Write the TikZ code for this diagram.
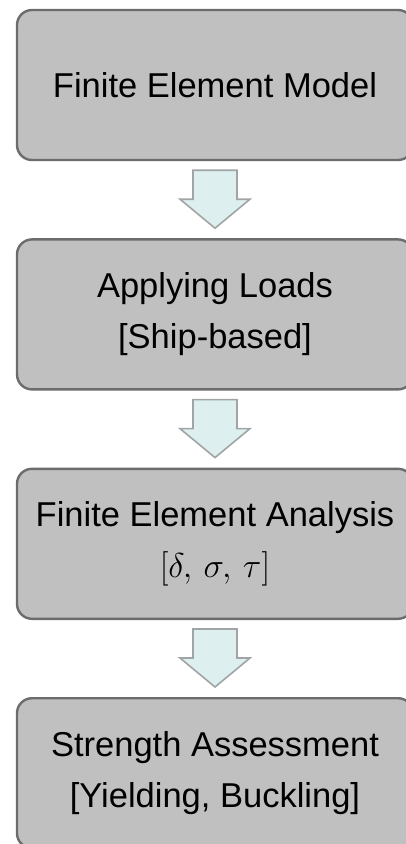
\documentclass[tikz,border=0pt]{standalone}
\usepackage{amsmath}
\usepackage{graphicx}
\usepackage{fontspec}
\setmainfont{Liberation Sans}
\usetikzlibrary{positioning,calc}

\definecolor{boxfill}{RGB}{192,192,192}
\definecolor{boxline}{RGB}{108,108,108}
\definecolor{arrowfill}{RGB}{221,239,239}
\definecolor{arrowline}{RGB}{160,164,164}

% block arrow from the bottom of one box to the top of the next
\newcommand{\flowarrow}[2]{%
  \draw[blockarrow] ($(#1.south)+(-22,-9)$) -- ($(#1.south)+(22,-9)$)
    -- ($(#1.south)+(22,-38)$) -- ($(#1.south)+(35,-38)$)
    -- ($(#2.north)+(0,10)$)
    -- ($(#1.south)+(-35,-38)$) -- ($(#1.south)+(-22,-38)$) -- cycle;}
% cm math stops at 24.88pt, so blow it up to the text size
\newcommand{\bigmath}[1]{\scalebox{1.387}{\fontsize{24.88}{30}\selectfont$#1$}}

\begin{document}
\begin{tikzpicture}[x=1pt,y=1pt,
  box/.style={draw=boxline,fill=boxfill,line width=2.4pt,rounded corners=15pt,
    minimum width=396pt,minimum height=150pt,inner sep=0pt,align=center,
    font=\fontsize{34.5}{51}\selectfont},
  blockarrow/.style={draw=arrowline,fill=arrowfill,line width=1.6pt,line join=miter}]
  \useasboundingbox (0,0) rectangle (406,-844);
  \node[box] (model) at (215,-85) {Finite Element Model};
  \node[box,below=77pt of model] (loads) {Applying Loads\\{}[Ship-based]};
  \node[box,below=77pt of loads] (fea) {Finite Element Analysis\\\bigmath{[\delta,\,\sigma,\,\tau]}};
  \node[box,below=77pt of fea] (strength) {Strength Assessment\\{}[Yielding, Buckling]};
  \flowarrow{model}{loads}
  \flowarrow{loads}{fea}
  \flowarrow{fea}{strength}
\end{tikzpicture}
\end{document}
